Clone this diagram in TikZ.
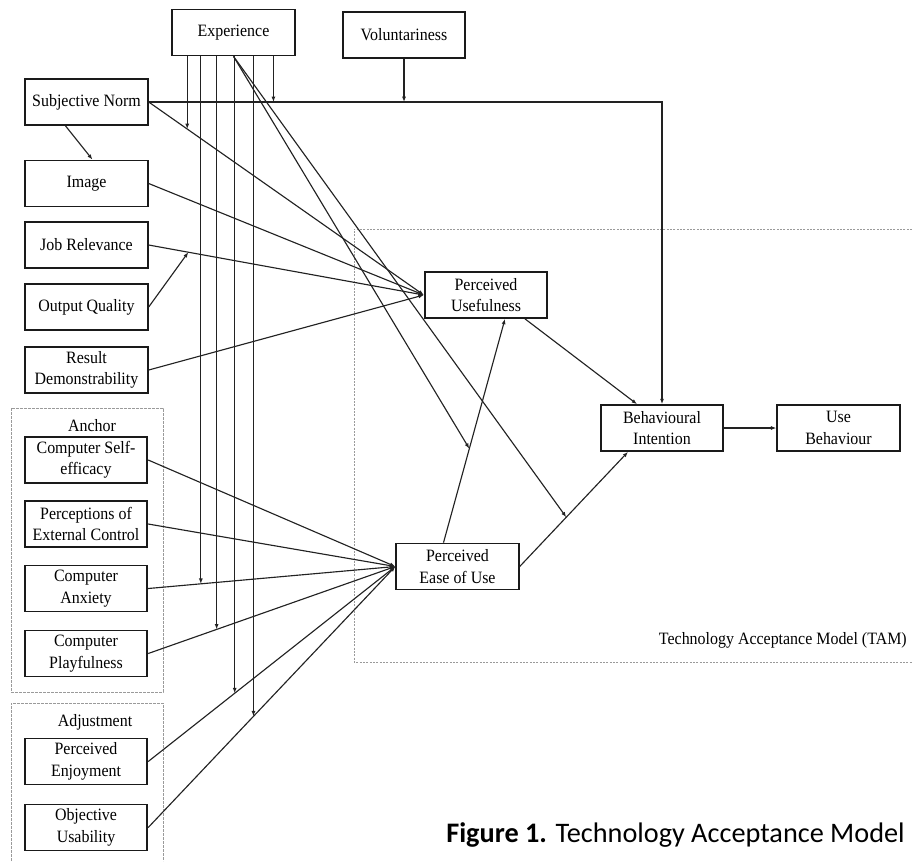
\documentclass[tikz,border=0pt]{standalone}
\usepackage{fontspec}
\usepackage{xcolor}
\usepackage{tikz}
\usetikzlibrary{calc,arrows.meta}
\newfontfamily\boxfont[FakeStretch=0.92]{Liberation Serif}
\newfontfamily\capfont{Carlito}
\definecolor{frame}{HTML}{1A1A1A}
\definecolor{wire}{HTML}{222222}
\definecolor{guide}{HTML}{9A9A9A}
\tikzset{
  box/.style={draw=frame, line width=1.3pt, minimum width=92pt, minimum height=34.5pt, inner sep=1pt, align=center, font={\boxfont\fontsize{13}{16}\selectfont}},
  arr/.style={draw=wire, line width=0.85pt, -{Latex[length=4pt,width=3pt]}},
  grp/.style={draw=guide, dashed, dash pattern=on 2pt off 1pt, line width=0.5pt},
  tam/.style={draw=guide, dash pattern=on 1.5pt off 1pt, line width=0.6pt},
  lab/.style={inner sep=0pt, font={\boxfont\fontsize{13}{16}\selectfont}},
  captxt/.style={inner sep=0pt, font={\capfont\fontsize{21.2}{26}\selectfont}},
}
\begin{document}
\begin{tikzpicture}[x=0.75pt,y=-0.75pt]
  \useasboundingbox (0,0) rectangle (912,861);
  % group frames
  \draw[grp] (11,408) rectangle (163,692);
  \draw[grp] (11,861) -- (11,703) -- (163,703) -- (163,861);
  \draw[tam] (912,229) -- (354,229) -- (354,662) -- (912,662);
  \node[lab] (anchor) at (92,426) {Anchor};
  \node[lab] (adjust) at (95,722) {Adjustment};
  \node[lab, anchor=east] (tamlab) at (907,640) {Technology Acceptance Model (TAM)};

  % boxes
  \node[box] (exp) at (233.5,32.5) {Experience};
  \node[box] (vol) at (404,35) {Voluntariness};
  \node[box] (sn) at (86.5,102) {Subjective Norm};
  \node[box] (img) at (86.5,183.5) {Image};
  \node[box] (jr) at (86.5,245) {Job Relevance};
  \node[box] (oq) at (86.5,307) {Output Quality};
  \node[box] (rd) at (86.5,370) {Result\\Demonstrability};
  \node[box] (cse) at (86,460) {Computer Self-\\efficacy};
  \node[box] (pec) at (86,524) {Perceptions of\\External Control};
  \node[box] (ca) at (86,588.5) {Computer\\Anxiety};
  \node[box] (cp) at (86,653.5) {Computer\\Playfulness};
  \node[box] (pe) at (86,761.5) {Perceived\\Enjoyment};
  \node[box] (ou) at (86,827.5) {Objective\\Usability};
  \node[box] (pu) at (486,295) {Perceived\\Usefulness};
  \node[box] (peou) at (457.5,566.5) {Perceived\\Ease of Use};
  \node[box] (bi) at (662,428) {Behavioural\\Intention};
  \node[box] (ub) at (838.5,428) {Use\\Behaviour};

  \node[captxt, anchor=west] (caption) at (446,835) {\textbf{Figure 1.} Technology Acceptance Model};

  % determinants
  \foreach \s in {sn,img,jr,rd} \draw[arr] (\s.east) -- (pu.west);
  \foreach \s in {cse,pec,ca,cp,pe,ou} \draw[arr] (\s.east) -- (peou.west);
  \draw[arr] ($(sn.south)+(-21,0)$) -- ($(img.north)+(6,0)$);
  \draw[arr] (oq.east) -- ($(jr.east)!0.144!(pu.west)$);

  % TAM core
  \coordinate (peoutop) at ($(peou.north)+(-14,0)$);
  \coordinate (pubot) at ($(pu.south)+(19,0)$);
  \coordinate (bibot) at ($(bi.south)+(-34,0)$);
  \draw[arr] (peoutop) -- (pubot);
  \draw[arr] ($(pu.south)+(39,0)$) -- ($(bi.north)+(-25,0)$);
  \draw[arr] (peou.east) -- (bibot);
  \draw[arr, line width=1.2pt] (bi) -- (ub);

  % subjective norm to intention, moderated
  \coordinate (snbend) at (sn.east -| bi.north);
  \draw[arr] (sn.east) -- (snbend) -- (bi.north);
  \draw[arr] (vol.south) -- (vol.south |- sn.east);

  % experience as moderator
  \coordinate (mSN) at ($(sn.east)!0.14!(pu.west)$);
  \coordinate (mBI) at ($(sn.east)!0.243!(snbend)$);
  \coordinate (mCA) at ($(ca.east)!0.213!(peou.west)$);
  \coordinate (mCP) at ($(cp.east)!0.277!(peou.west)$);
  \coordinate (mPE) at ($(pe.east)!0.35!(peou.west)$);
  \coordinate (mOU) at ($(ou.east)!0.426!(peou.west)$);
  \foreach \m in {mSN,mBI,mCA,mCP,mPE,mOU} \draw[arr] (exp.south -| \m) -- (\m);
  \draw[arr] (exp.south) -- ($(peoutop)!0.42!(pubot)$);
  \draw[arr] (exp.south) -- ($(peou.east)!0.43!(bibot)$);
\end{tikzpicture}
\end{document}
